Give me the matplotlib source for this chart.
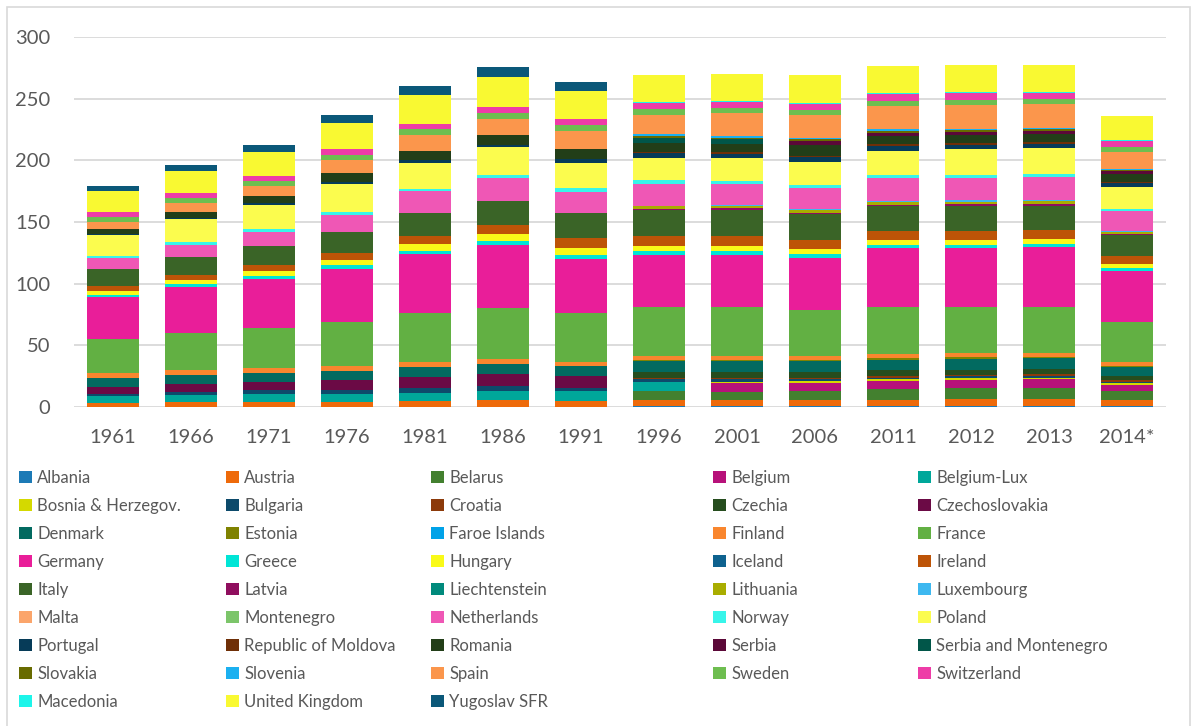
import numpy as np
import matplotlib.pyplot as plt
from matplotlib.patches import Rectangle

plt.rcParams['font.family'] = ['Lato', 'DejaVu Sans']

years = ['1961', '1966', '1971', '1976', '1981', '1986', '1991',
         '1996', '2001', '2006', '2011', '2012', '2013', '2014*']

countries = ['Albania', 'Austria', 'Belarus', 'Belgium', 'Belgium-Lux',
             'Bosnia & Herzegov.', 'Bulgaria', 'Croatia', 'Czechia', 'Czechoslovakia',
             'Denmark', 'Estonia', 'Faroe Islands', 'Finland', 'France',
             'Germany', 'Greece', 'Hungary', 'Iceland', 'Ireland',
             'Italy', 'Latvia', 'Liechtenstein', 'Lithuania', 'Luxembourg',
             'Malta', 'Montenegro', 'Netherlands', 'Norway', 'Poland',
             'Portugal', 'Republic of Moldova', 'Romania', 'Serbia', 'Serbia and Montenegro',
             'Slovakia', 'Slovenia', 'Spain', 'Sweden', 'Switzerland',
             'Macedonia', 'United Kingdom', 'Yugoslav SFR']

colors = ['#1C7AB6', '#EE6A0A', '#43802F', '#B7117A', '#00A79A',
          '#D4D900', '#0D4A6B', '#8C3A0A', '#264D1E', '#6B0A45',
          '#026A60', '#7F8200', '#00A2E8', '#F9862E', '#62B043',
          '#E91E99', '#00E5D6', '#F9FA18', '#0E628F', '#BD5407',
          '#3A6427', '#8F0E5E', '#008A7C', '#A9AD00', '#3DB8F0',
          '#FBA56B', '#7CC56A', '#EF57B5', '#37F5EA', '#FBFC4E',
          '#063B58', '#6F2F07', '#223E18', '#5B0838', '#015649',
          '#686B00', '#1BB0F0', '#FB964C', '#6EBE50', '#EE3CA7',
          '#1DF5EA', '#F9F932', '#0B5879']

albania = [0, 0, 0, 0, 0, 0, 0, 0.5, 0.5, 0.5, 0.8, 0.8, 0.8, 0.8]
austria = [3.5, 4.3, 4.3, 4.3, 4.6, 5.7, 4.9, 5.4, 5.4, 4.9, 4.9, 5.4, 5.4, 4.6]
belarus = [0, 0, 0, 0, 0, 0, 0, 6.8, 6.2, 7.6, 8.6, 9.2, 9.2, 7.3]
belgium = [0, 0, 0, 0, 0, 0, 0, 0, 7.3, 6.5, 6.8, 6.8, 7.0, 5.4]
belgium_lux = [5.4, 5.4, 6.2, 6.5, 6.8, 7.0, 7.8, 7.3, 0, 0, 0, 0, 0, 0]
bosnia = [0, 0, 0, 0, 0, 0, 0, 0.5, 1.1, 1.4, 1.4, 1.1, 1.1, 1.4]
bulgaria = [1.4, 2.2, 3.0, 3.2, 3.8, 4.3, 3.0, 2.2, 1.9, 1.4, 1.4, 1.6, 1.6, 1.1]
croatia = [0, 0, 0, 0, 0, 0, 0, 1.1, 1.4, 1.4, 1.4, 1.4, 1.4, 1.1]
czechia = [0, 0, 0, 0, 0, 0, 0, 4.6, 4.6, 4.3, 4.6, 4.1, 4.1, 3.8]
czechoslovakia = [6.0, 6.8, 7.0, 8.1, 8.9, 9.7, 9.5, 0, 0, 0, 0, 0, 0, 0]
denmark = [7.0, 7.3, 6.8, 7.3, 8.1, 8.4, 8.1, 8.9, 8.6, 8.9, 8.4, 8.9, 9.2, 7.3]
estonia = [0, 0, 0, 0, 0, 0, 0, 1.0, 1.1, 1.1, 1.1, 1.4, 1.1, 0.8]
faroe = [0, 0, 0, 0, 0, 0, 0, 0, 0, 0, 0, 0, 0, 0]
finland = [4.3, 4.3, 4.1, 4.1, 4.1, 4.1, 3.2, 3.0, 3.5, 3.5, 3.5, 3.0, 3.0, 2.7]
france = [27.6, 29.5, 32.4, 35.4, 39.7, 40.8, 39.7, 40.0, 39.5, 37.3, 38.4, 37.6, 37.3, 32.7]
germany = [33.8, 37.8, 40.3, 42.7, 47.8, 51.1, 44.1, 41.9, 41.9, 42.4, 47.3, 47.8, 48.4, 41.4]
greece = [1.9, 1.9, 2.2, 3.2, 2.7, 3.2, 3.0, 3.0, 3.2, 3.2, 3.0, 2.4, 2.7, 2.4]
hungary = [3.5, 3.5, 4.3, 4.6, 5.9, 5.9, 5.7, 4.3, 4.6, 4.1, 3.8, 3.8, 3.8, 3.0]
iceland = [0, 0, 0, 0, 0, 0, 0, 0, 0, 0, 0, 0, 0, 0]
ireland = [3.5, 3.8, 4.3, 5.4, 5.9, 7.6, 7.8, 8.1, 7.8, 7.3, 7.6, 7.6, 7.6, 7.0]
italy = [13.8, 15.1, 15.7, 16.8, 19.2, 19.2, 20.3, 21.1, 21.4, 20.8, 19.7, 20.3, 19.5, 16.5]
latvia = [0, 0, 0, 0, 0, 0, 0, 1.1, 1.1, 1.1, 1.4, 1.4, 1.4, 0.8]
liechtenstein = [0, 0, 0, 0, 0, 0, 0, 0, 0, 0, 0, 0, 0, 0]
lithuania = [0, 0, 0, 0, 0, 0, 0, 2.2, 1.9, 2.2, 2.4, 1.9, 2.2, 1.9]
luxembourg = [0, 0, 0, 0, 0, 0, 0, 0, 0.5, 0.8, 0.8, 1.0, 1.0, 0.5]
malta = [0, 0, 0, 0, 0, 0, 0, 0, 0, 0, 0, 0, 0, 0]
montenegro = [0, 0, 0, 0, 0, 0, 0, 0, 0, 0, 0, 0, 0, 0]
netherlands = [8.9, 9.7, 11.6, 14.1, 17.3, 18.9, 17.6, 17.8, 17.6, 16.5, 18.4, 18.4, 18.9, 16.2]
norway = [1.6, 2.2, 2.2, 2.4, 2.2, 2.4, 2.7, 3.2, 2.4, 2.4, 2.4, 2.2, 2.2, 1.9]
poland = [17.0, 18.4, 19.7, 22.4, 21.1, 22.4, 20.8, 18.1, 18.1, 19.2, 19.7, 20.8, 20.8, 18.1]
portugal = [0.8, 1.1, 1.6, 1.9, 2.2, 1.9, 3.0, 3.5, 3.8, 3.5, 3.8, 3.8, 3.8, 3.2]
moldova = [0, 0, 0, 0, 0, 0, 0, 1.1, 1.1, 1.4, 1.4, 1.4, 1.4, 0.8]
romania = [4.0, 4.9, 5.1, 7.0, 7.0, 7.6, 7.8, 7.3, 6.5, 8.9, 7.0, 6.5, 6.8, 6.2]
serbia = [0, 0, 0, 0, 0, 0, 0, 0, 0, 2.7, 2.4, 2.4, 2.4, 2.4]
serbia_mont = [0, 0, 0, 0, 0, 0, 0, 4.3, 4.1, 0, 0, 0, 0, 0]
slovakia = [0, 0, 0, 0, 0, 0, 0, 1.6, 1.4, 1.6, 1.6, 1.4, 1.1, 0.8]
slovenia = [0, 0, 0, 0, 0, 0, 0, 1.4, 1.6, 1.4, 1.1, 1.4, 1.1, 1.1]
spain = [5.7, 7.3, 8.6, 10.8, 13.2, 13.2, 15.1, 15.4, 18.4, 18.1, 19.2, 19.2, 19.5, 13.8]
sweden = [4.3, 4.3, 3.8, 4.3, 4.6, 4.9, 4.3, 4.6, 4.1, 4.6, 4.1, 4.1, 3.8, 3.8]
switzerland = [3.8, 3.8, 4.1, 4.3, 4.6, 4.9, 4.9, 5.1, 4.9, 4.6, 5.1, 5.1, 5.1, 4.9]
macedonia = [0, 0, 0, 0, 0, 0, 0, 0.5, 0.5, 0.5, 0.8, 0.8, 0.8, 0.5]
uk = [17.3, 17.8, 19.7, 21.4, 23.2, 24.1, 22.7, 22.4, 22.2, 22.7, 22.2, 21.9, 21.9, 19.5]
yugoslav = [4.3, 4.6, 5.1, 6.8, 7.6, 8.1, 7.8, 0, 0, 0, 0, 0, 0, 0]

series = [albania, austria, belarus, belgium, belgium_lux, bosnia, bulgaria, croatia,
          czechia, czechoslovakia, denmark, estonia, faroe, finland, france, germany,
          greece, hungary, iceland, ireland, italy, latvia, liechtenstein, lithuania,
          luxembourg, malta, montenegro, netherlands, norway, poland, portugal, moldova,
          romania, serbia, serbia_mont, slovakia, slovenia, spain, sweden, switzerland,
          macedonia, uk, yugoslav]

fig = plt.figure(figsize=(11.94, 7.26), dpi=100)
ax = fig.add_axes([74 / 1194, 1 - 407 / 726, (1166 - 74) / 1194, 370 / 726])

x = np.arange(len(years))
bottom = np.zeros(len(years))
handles = []
for name, vals, col in zip(countries, series, colors):
    vals = np.array(vals, dtype=float)
    b = ax.bar(x, vals, 0.667, bottom=bottom, color=col, label=name,
               edgecolor='none', zorder=3)
    handles.append(b)
    bottom += vals

ax.set_xlim(-0.5, len(years) - 0.5)
ax.set_ylim(0, 300)
ax.set_yticks(range(0, 301, 50))
ax.set_xticks(x)
ax.set_xticklabels(years)
ax.grid(axis='y', color='#D9D9D9', linewidth=1.3, zorder=0)
ax.set_axisbelow(True)
for s in ax.spines.values():
    s.set_visible(False)
ax.tick_params(axis='both', length=0, labelsize=14.5, colors='#595959')
ax.tick_params(axis='x', pad=16)
ax.tick_params(axis='y', pad=17)

# legend: 5 columns filled row-wise, Excel style
col_x = [19, 226, 431, 713, 918]
for j in range(5):
    idx = list(range(j, len(countries), 5))
    fig.legend([handles[i] for i in idx], [countries[i] for i in idx],
               loc='upper left', bbox_to_anchor=(col_x[j] / 1194, 1 - 470 / 726),
               ncol=1, frameon=False, fontsize=12, labelcolor='#595959',
               handlelength=0.75, handleheight=0.75, handletextpad=0.35,
               borderpad=0, borderaxespad=0, labelspacing=0.72)

fig.patches.append(Rectangle((7 / 1194, -0.05), 1183 / 1194, 1.05 - 7 / 726,
                             transform=fig.transFigure, fill=False,
                             edgecolor='#D9D9D9', linewidth=1.2))

fig.savefig('out.png', dpi=100)
